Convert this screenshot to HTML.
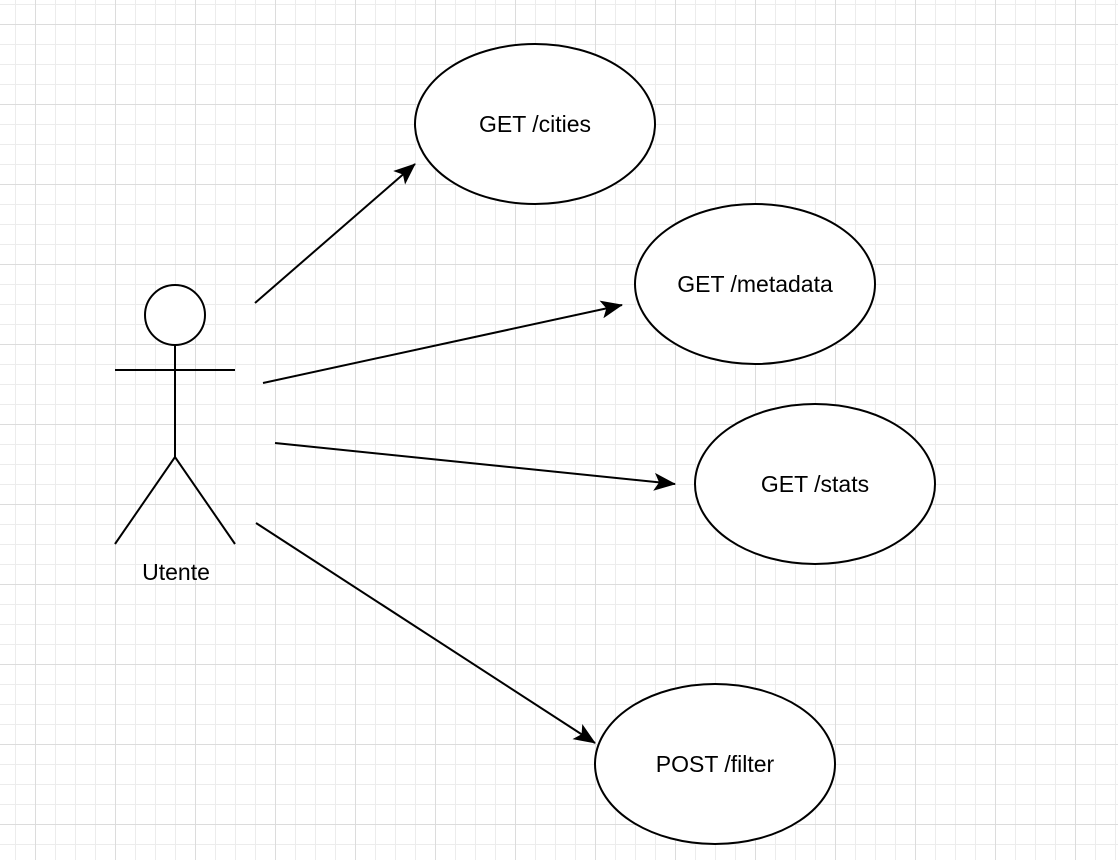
<!DOCTYPE html>
<html><head><meta charset="utf-8"><style>
html,body{margin:0;padding:0;background:#fff;}
svg{display:block;}
text{font-family:"Liberation Sans",Helvetica,Arial,sans-serif;font-size:23px;fill:#000;}
</style></head><body>
<svg width="1118" height="860" viewBox="0 0 1118 860" xmlns="http://www.w3.org/2000/svg">
<defs>
<pattern id="minor" x="15" y="4" width="20" height="20" patternUnits="userSpaceOnUse">
<path d="M0 0H20M0 0V20" stroke="#ececec" stroke-width="2" fill="none"/>
</pattern>
<pattern id="major" x="35" y="24" width="80" height="80" patternUnits="userSpaceOnUse">
<path d="M0 0H80M0 0V80" stroke="#dcdcdc" stroke-width="2" fill="none"/>
</pattern>
<marker id="a2" viewBox="0 0 22 18" refX="21" refY="9" markerWidth="22" markerHeight="18" markerUnits="userSpaceOnUse" orient="auto">
<path d="M0 0L22 9L0 18L5 9Z" fill="#000"/>
</marker>
</defs>
<rect width="1118" height="860" fill="url(#minor)"/>
<rect width="1118" height="860" fill="url(#major)"/>
<g stroke="#000" stroke-width="2" fill="none">
<circle cx="175" cy="315" r="30" fill="#fff"/>
<line x1="115" y1="370" x2="235" y2="370"/>
<line x1="175" y1="345" x2="175" y2="457"/>
<path d="M115 544L175 457L235 544"/>
<ellipse cx="535" cy="124" rx="120" ry="80" fill="#fff"/>
<ellipse cx="755" cy="284" rx="120" ry="80" fill="#fff"/>
<ellipse cx="815" cy="484" rx="120" ry="80" fill="#fff"/>
<ellipse cx="715" cy="764" rx="120" ry="80" fill="#fff"/>
<line x1="255" y1="303" x2="415" y2="164" marker-end="url(#a2)"/>
<line x1="263" y1="383" x2="622" y2="305" marker-end="url(#a2)"/>
<line x1="275" y1="443" x2="675" y2="484" marker-end="url(#a2)"/>
<line x1="256" y1="523" x2="595" y2="743" marker-end="url(#a2)"/>
</g>
<text x="176" y="580" text-anchor="middle">Utente</text>
<text x="535" y="132" text-anchor="middle">GET /cities</text>
<text x="755" y="292" text-anchor="middle">GET /metadata</text>
<text x="815" y="492" text-anchor="middle">GET /stats</text>
<text x="715" y="772" text-anchor="middle">POST /filter</text>
</svg>
</body></html>
